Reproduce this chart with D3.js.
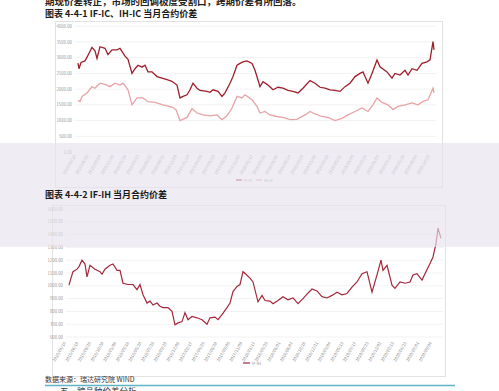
<!DOCTYPE html>
<html>
<head>
<meta charset="utf-8">
<script src="https://d3js.org/d3.v7.min.js"></script>
<style>
  body { margin: 0; background: #fff; }
  text { font-family: "Noto Sans CJK SC", "Noto Sans", sans-serif; }
</style>
</head>
<body>
<svg id="page" width="499" height="391"></svg>
<script>

// ---- data ----
// t = trading-week index from start of sample
const ifIcSpread = [[0,2825],[1,2650],[3,2850],[7,2900],[10,3080],[14,3330],[17,3220],[19,2980],[22,3350],[27,3300],[30,3100],[34,3250],[39,3250],[42,3300],[47,3050],[50,2950],[54,2500],[57,2650],[60,2760],[64,2700],[67,2760],[70,2550],[74,2550],[79,2400],[84,2350],[89,2300],[94,2250],[99,2130],[102,1720],[105,1770],[109,1820],[112,1980],[115,2190],[119,2030],[122,1960],[129,1930],[132,1900],[135,1980],[140,1930],[144,1770],[147,1880],[152,2190],[155,2400],[159,2760],[162,2820],[165,2870],[169,2900],[174,2820],[177,2600],[180,2290],[182,2080],[185,2240],[190,2130],[195,1980],[200,2060],[205,2030],[210,1960],[215,1930],[220,1880],[225,2030],[232,2270],[237,2190],[242,2060],[247,2030],[252,1980],[257,1960],[262,1930],[267,2080],[272,2190],[277,2400],[282,2500],[285,2550],[290,2190],[294,2500],[299,2930],[302,2710],[309,2550],[314,2350],[317,2500],[322,2450],[327,2600],[330,2450],[334,2650],[339,2600],[344,2820],[349,2870],[352,2930],[355,3510],[356,3250]];
const ihIcSpread = [[0,1650],[2,1600],[4,1770],[9,1880],[14,2080],[17,2030],[22,2190],[27,2150],[32,2080],[37,2190],[42,2130],[45,2190],[50,1980],[54,1500],[59,1720],[65,1720],[70,1600],[77,1580],[85,1500],[94,1430],[98,1350],[102,1000],[109,1100],[114,1380],[119,1240],[125,1180],[132,1150],[139,1180],[144,1030],[149,1150],[154,1400],[159,1770],[164,1720],[167,1820],[174,1660],[179,1450],[182,1240],[187,1290],[192,1180],[199,1130],[205,1100],[212,1030],[219,1040],[227,1180],[232,1290],[237,1210],[244,1130],[250,1100],[257,1000],[264,1070],[270,1180],[277,1290],[284,1400],[290,1290],[295,1500],[299,1720],[304,1580],[310,1500],[315,1350],[320,1450],[327,1500],[334,1560],[340,1500],[345,1610],[350,1660],[355,2030],[356,1880]];
const ifIhSpread = [[0,1006],[2,1060],[4,1110],[8,1130],[10,1150],[13,1200],[16,1170],[18,1070],[21,1160],[26,1130],[31,1110],[33,1090],[36,1130],[41,1160],[44,1170],[48,1120],[51,1120],[54,1020],[59,1010],[64,1010],[68,970],[71,1010],[74,930],[78,865],[81,880],[84,850],[88,865],[91,840],[94,830],[99,830],[103,800],[106,695],[109,710],[113,720],[116,790],[119,735],[123,760],[128,750],[133,735],[138,700],[141,750],[146,755],[149,735],[153,775],[158,830],[161,865],[164,955],[168,995],[171,1010],[174,1110],[177,1090],[181,1060],[184,1030],[189,875],[193,925],[196,885],[201,880],[204,860],[209,885],[214,915],[219,890],[224,905],[229,860],[234,900],[238,935],[243,975],[248,960],[253,915],[258,905],[263,925],[268,950],[273,930],[278,940],[283,990],[288,1030],[293,1095],[298,1110],[303,950],[308,1085],[312,1200],[314,1120],[318,1160],[323,1005],[326,980],[331,1030],[336,1020],[341,1030],[344,1085],[348,1095],[353,1045],[356,1095],[361,1175],[364,1225],[367,1330],[369,1450],[372,1370]];

const yTicks1 = [0, 500, 1000, 1500, 2000, 2500, 3000, 3500, 4000];
const yTicks2 = [600, 700, 800, 900, 1000, 1100, 1200, 1300, 1400, 1500, 1600];
const dateLabels1 = ["2015/04/16","2015/06/26","2015/09/09","2015/11/18","2016/01/28","2016/04/13","2016/06/22","2016/08/31","2016/11/09","2017/01/19","2017/04/06","2017/06/15","2017/08/24","2017/11/02","2018/01/12","2018/03/26","2018/06/05","2018/08/14","2018/10/29","2019/01/08","2019/03/20","2019/05/31","2019/08/09","2019/10/24","2020/01/03","2020/03/17","2020/05/28","2020/08/06","2020/10/23"];
const dateLabels2 = ["2015/04/16","2015/06/19","2015/08/25","2015/10/30","2016/01/08","2016/03/16","2016/05/20","2016/07/26","2016/09/29","2016/12/08","2017/02/17","2017/04/25","2017/06/30","2017/09/05","2017/11/09","2018/01/17","2018/03/26","2018/06/01","2018/08/07","2018/10/18","2018/12/21","2019/03/04","2019/05/13","2019/07/17","2019/09/23","2019/12/02","2020/02/13","2020/04/23","2020/07/01","2020/09/04"];

const svg = d3.select("#page");

// top text (cut off by the page edge, as in the source page)
svg.append("text").attr("x", 45).attr("y", 4.5)
  .attr("font-size", 9.5).attr("font-weight", 700).attr("fill", "#222")
  .text("期现价差转正，市场的回调极度受割口，跨期价差有所回落。");

// ---- chart 1 ----
svg.append("text").attr("x", 45).attr("y", 17)
  .attr("font-size", 9).attr("font-weight", 700).attr("fill", "#1a1a1a")
  .text("图表 4-4-1 IF-IC、IH-IC 当月合约价差");

svg.append("rect").attr("x", 55.5).attr("y", 21.5).attr("width", 387).attr("height", 166)
  .attr("fill", "#fff").attr("stroke", "#e2e2e2");

const x1 = d3.scaleLinear().domain([0, 356]).range([78, 434]);
const y1 = d3.scaleLinear().domain([0, 4000]).range([152, 26.3]);

const g1 = svg.append("g");
g1.selectAll(".grid").data(yTicks1).join("line")
  .attr("x1", 75).attr("x2", 436)
  .attr("y1", d => y1(d)).attr("y2", d => y1(d))
  .attr("stroke", "#ececec").attr("stroke-width", 0.7);
g1.selectAll(".ylab").data(yTicks1).join("text")
  .attr("x", 72).attr("y", d => y1(d) + 1.5)
  .attr("text-anchor", "end").attr("font-size", 4.3).attr("fill", "#999")
  .text(d => d3.format(".2f")(d));

const xp1 = d3.scalePoint().domain(dateLabels1).range([76, 430]);
g1.selectAll(".xlab").data(dateLabels1).join("text")
  .attr("transform", d => "translate(" + xp1(d) + ",156) rotate(-60)")
  .attr("text-anchor", "end").attr("font-size", 4.2).attr("fill", "#8a8a8a")
  .text(d => d);

const line1 = d3.line().x(d => x1(d[0])).y(d => y1(d[1]));
g1.append("path").datum(ihIcSpread).attr("d", line1)
  .attr("fill", "none").attr("stroke", "#e7a3a6").attr("stroke-width", 1.3);
g1.append("path").datum(ifIcSpread).attr("d", line1)
  .attr("fill", "none").attr("stroke", "#9e1f2b").attr("stroke-width", 1.3);

// legend 1
const leg1 = [["IF-IC", "#9e1f2b"], ["IH-IC", "#e7a3a6"]];
leg1.forEach((d, i) => {
  svg.append("line").attr("x1", 236 + i * 20).attr("x2", 242 + i * 20)
    .attr("y1", 180).attr("y2", 180).attr("stroke", d[1]).attr("stroke-width", 1.2);
  svg.append("text").attr("x", 244 + i * 20).attr("y", 181.5)
    .attr("font-size", 4).attr("fill", "#888").text(d[0]);
});

// ---- chart 2 ----
svg.append("rect").attr("x", 52.5).attr("y", 205.5).attr("width", 393).attr("height", 171)
  .attr("fill", "#fff").attr("stroke", "#e2e2e2");

const x2 = d3.scaleLinear().domain([0, 372]).range([69, 441]);
const y2 = d3.scaleLinear().domain([600, 1600]).range([337, 209]);

const g2 = svg.append("g");
g2.selectAll(".grid").data(yTicks2).join("line")
  .attr("x1", 66).attr("x2", 443)
  .attr("y1", d => y2(d)).attr("y2", d => y2(d))
  .attr("stroke", "#ececec").attr("stroke-width", 0.7);
g2.selectAll(".ylab").data(yTicks2).join("text")
  .attr("x", 63).attr("y", d => y2(d) + 1.5)
  .attr("text-anchor", "end").attr("font-size", 4.3).attr("fill", "#999")
  .text(d => d3.format(".2f")(d));

const xp2 = d3.scalePoint().domain(dateLabels2).range([66, 432]);
g2.selectAll(".xlab").data(dateLabels2).join("text")
  .attr("transform", d => "translate(" + xp2(d) + ",343) rotate(-60)")
  .attr("text-anchor", "end").attr("font-size", 4.2).attr("fill", "#8a8a8a")
  .text(d => d);

const line2 = d3.line().x(d => x2(d[0])).y(d => y2(d[1]));
g2.append("path").datum(ifIhSpread).attr("d", line2)
  .attr("fill", "none").attr("stroke", "#a3283a").attr("stroke-width", 1.2);

svg.append("line").attr("x1", 243).attr("x2", 250).attr("y1", 363).attr("y2", 363)
  .attr("stroke", "#a3283a").attr("stroke-width", 1.2);
svg.append("text").attr("x", 252).attr("y", 364.5)
  .attr("font-size", 4).attr("fill", "#888").text("IF-IH");

// grey translucent band across the middle of the page
svg.append("rect").attr("x", 0).attr("y", 143).attr("width", 499).attr("height", 104)
  .attr("fill", "#e6e3ec").attr("opacity", 0.65);

svg.append("text").attr("x", 45).attr("y", 198)
  .attr("font-size", 9).attr("font-weight", 700).attr("fill", "#1a1a1a")
  .text("图表 4-4-2 IF-IH 当月合约价差");

// source and footer rule
svg.append("text").attr("x", 45).attr("y", 381.5)
  .attr("font-size", 7).attr("fill", "#333")
  .text("数据来源：瑞达研究院   WIND");
svg.append("line").attr("x1", 45).attr("x2", 455).attr("y1", 385.5).attr("y2", 385.5)
  .attr("stroke", "#5fb4c4").attr("stroke-width", 1.3);
svg.append("text").attr("x", 60).attr("y", 394)
  .attr("font-size", 8.5).attr("fill", "#333")
  .text("五、跨品种价差分析");

</script>
</body>
</html>
